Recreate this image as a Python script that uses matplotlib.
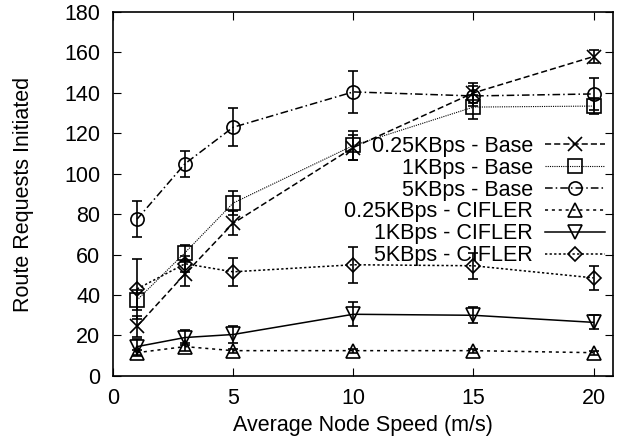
import matplotlib.pyplot as plt
import numpy as np

plt.rcParams['font.family'] = ['Liberation Sans', 'DejaVu Sans']

# velocidades (m/s)
speed = [1, 3, 5, 10, 15, 20]

# solicitudes de ruta iniciadas y su error
base_025 = [24.5, 50.5, 75.5, 113, 140, 158]
base_025_err = [5, 6, 6, 6, 5, 3]
base_1 = [37.5, 61, 85.5, 114, 133, 133.5]
base_1_err = [5, 4, 6, 7, 6, 4]
base_5 = [77.5, 105, 123, 140.5, 138.5, 139.5]
base_5_err = [9, 6.5, 9.5, 10.5, 5, 8]
cifler_025 = [11.5, 14.5, 12.5, 12.5, 12.5, 11.5]
cifler_025_err = [1.5, 2, 1, 1, 1, 1]
cifler_1 = [14.5, 19, 20.5, 30.5, 30, 26.5]
cifler_1_err = [4, 3.5, 4, 6, 4, 3.5]
cifler_5 = [43, 55.5, 51.5, 55, 54.5, 48.5]
cifler_5_err = [15, 4, 7, 9, 6.5, 6]

series = [
    ("0.25KBps - Base", base_025, base_025_err, "x", (0, (4, 2))),
    ("1KBps - Base", base_1, base_1_err, "s", (0, (1, 1))),
    ("5KBps - Base", base_5, base_5_err, "o", (0, (5, 2, 1, 2))),
    ("0.25KBps - CIFLER", cifler_025, cifler_025_err, "^", (0, (2, 2.5))),
    ("1KBps - CIFLER", cifler_1, cifler_1_err, "v", "-"),
    ("5KBps - CIFLER", cifler_5, cifler_5_err, "D", (0, (1.5, 1.5))),
]

fig = plt.figure(figsize=(6.24, 4.47), dpi=100)
ax = fig.add_axes([0.181, 0.159, 0.801, 0.814])

for label, vals, err, mk, ls in series:
    ms = 7.5 if mk == "D" else 9.5
    lw = 0.8 if ls == (0, (1, 1)) else 1.1
    ax.errorbar(speed, vals, yerr=err, color="black", linestyle=ls, linewidth=lw,
                marker=mk, markersize=ms, markerfacecolor="none", markeredgewidth=1.2,
                ecolor="black", elinewidth=1.2, capsize=3.5, capthick=1.2, label=label)

ax.set_xlim(0, 20.8)
ax.set_ylim(0, 180)
ax.set_xticks([0, 5, 10, 15, 20])
ax.set_yticks(np.arange(0, 181, 20))
ax.tick_params(direction="in", top=True, right=True, length=6, labelsize=15.5, pad=9)
for s in ax.spines.values():
    s.set_linewidth(1.2)

ax.set_xlabel("Average Node Speed (m/s)", fontsize=15.5, labelpad=4)
ax.set_ylabel("Route Requests Initiated", fontsize=15.5, labelpad=22)

handles, labels = ax.get_legend_handles_labels()
handles = [h[0] for h in handles]
ax.legend(handles, labels, loc="upper right", bbox_to_anchor=(0.985, 0.66),
          frameon=False, markerfirst=False, fontsize=15.5, handlelength=2.8,
          handletextpad=0.55, labelspacing=0.04, borderpad=0, borderaxespad=0)

plt.savefig("out.png", dpi=100)
